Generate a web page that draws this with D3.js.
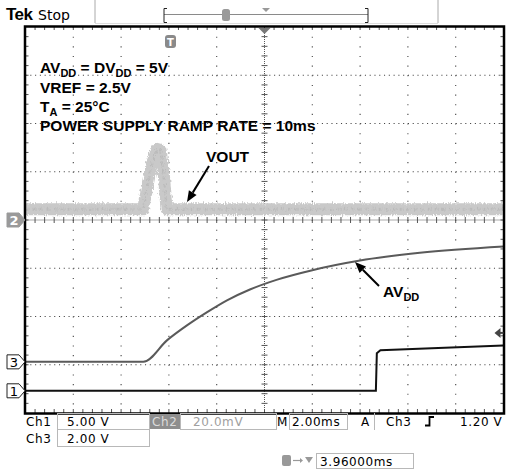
<!DOCTYPE html>
<html lang="en">
<head>
<meta charset="UTF-8">
<title>Power-up glitch scope shot</title>
<script src="https://d3js.org/d3.v7.min.js"></script>
<style>
  body { margin: 0; background: #fff; }
  svg { display: block; }
  .note { font-family: "Liberation Sans", Arial, sans-serif; font-weight: bold; font-size: 15.5px; fill: #000; }
  .stat { font-family: "DejaVu Sans", sans-serif; font-size: 12px; letter-spacing: 0.6px; fill: #000; }
  .box { fill: none; stroke: #b8b8b8; stroke-width: 1; }
</style>
</head>
<body>
<svg id="scope" width="508" height="470"></svg>
<script>
// channel 3 = AVDD (2 V/div), time in ms from left edge of screen
const ch3Time = [0, 4.93, 5.93, 6.77, 7.6, 8.43, 9.39, 10.5, 12, 14, 16.5, 20];
const ch3Volt = [0, 0, 0.9, 1.52, 2.06, 2.55, 3.0, 3.4, 3.8, 4.2, 4.52, 4.78];
// channel 1 (5 V/div)
const ch1Time = [0, 14.66, 14.7, 14.85, 17, 20];
const ch1Volt = [0, 0, 3.9, 4.2, 4.4, 4.7];
// channel 2 = VOUT (20 mV/div)
const ch2Time = [0, 4.92, 5.1, 5.3, 5.5, 5.65, 5.78, 5.9, 20];
const ch2mV = [4.5, 4.5, 14, 24, 29.5, 29, 20, 4.5, 4.5];

const notes = ["VREF = 2.5V", "POWER SUPPLY RAMP RATE = 10ms"];

const svg = d3.select("#scope");
const L = 25.5, R = 503.5, T = 27, B = 413;
const x = d3.scaleLinear().domain([0, 20]).range([L, R]);
const yDiv = d3.scaleLinear().domain([-4, 4]).range([B, T]);
const divW = (R - L) / 10, divH = (B - T) / 8;

// per-channel y mapping: volts per div and ground offset in divisions
const y1 = v => yDiv(v / 5 - 3.54);
const y2 = v => yDiv(v / 20);
const y3 = v => yDiv(v / 2 - 2.94);

// noise filter for the VOUT band
const defs = svg.append("defs");
const f = defs.append("filter").attr("id", "fuzz").attr("x", "-5%").attr("y", "-50%").attr("width", "110%").attr("height", "200%");
f.append("feTurbulence").attr("type", "fractalNoise").attr("baseFrequency", "0.9 0.25").attr("numOctaves", 2).attr("seed", 3).attr("result", "n");
f.append("feDisplacementMap").attr("in", "SourceGraphic").attr("in2", "n").attr("scale", 5).attr("xChannelSelector", "R").attr("yChannelSelector", "G");

// ---- grid
const g = svg.append("g");
d3.range(1, 10).filter(k => k !== 5).forEach(k => {
  g.append("line").attr("x1", L + k * divW).attr("x2", L + k * divW).attr("y1", T).attr("y2", B)
    .attr("stroke", "#444").attr("stroke-width", 1.1).attr("stroke-dasharray", `1.1,${divH / 5 - 1.1}`);
});
d3.range(1, 8).filter(k => k !== 4).forEach(k => {
  g.append("line").attr("x1", L).attr("x2", R).attr("y1", T + k * divH).attr("y2", T + k * divH)
    .attr("stroke", "#444").attr("stroke-width", 1.1).attr("stroke-dasharray", `1.1,${divW / 10 - 1.1}`);
});
// center crosshair
const cx = L + 5 * divW, cy = T + 4 * divH;
g.append("line").attr("x1", cx).attr("x2", cx).attr("y1", T).attr("y2", B).attr("stroke", "#555").attr("stroke-dasharray", "1,1");
g.append("line").attr("x1", L).attr("x2", R).attr("y1", cy).attr("y2", cy).attr("stroke", "#555").attr("stroke-dasharray", "1,1");
d3.range(1, 40).forEach(i => {
  const yy = T + i * divH / 5;
  g.append("line").attr("x1", cx - 3).attr("x2", cx + 3).attr("y1", yy).attr("y2", yy).attr("stroke", "#555");
});
d3.range(1, 50).forEach(i => {
  const xx = L + i * divW / 5;
  g.append("line").attr("x1", xx).attr("x2", xx).attr("y1", cy - 3).attr("y2", cy + 3).attr("stroke", "#555");
  g.append("line").attr("x1", xx).attr("x2", xx).attr("y1", B - 4).attr("y2", B).attr("stroke", "#555");
  g.append("line").attr("x1", xx).attr("x2", xx).attr("y1", T).attr("y2", T + 3).attr("stroke", "#555");
});
d3.range(1, 40).forEach(i => {
  const yy = T + i * divH / 5;
  g.append("line").attr("x1", L).attr("x2", L + 3).attr("y1", yy).attr("y2", yy).attr("stroke", "#555");
  g.append("line").attr("x1", R - 3).attr("x2", R).attr("y1", yy).attr("y2", yy).attr("stroke", "#555");
});

// ---- traces
const vout = ch2Time.map((t, i) => [x(t), y2(ch2mV[i])]);
svg.append("path").attr("d", d3.line().curve(d3.curveLinear)(vout))
  .attr("fill", "none").attr("stroke", "#c9c9c9").attr("stroke-width", 12).attr("stroke-linejoin", "round")
  .attr("filter", "url(#fuzz)");
svg.append("path").attr("d", d3.line().curve(d3.curveLinear)(vout))
  .attr("fill", "none").attr("stroke", "#b3b3b3").attr("stroke-width", 3).attr("opacity", 0.6)
  .attr("stroke-dasharray", "2,1,1,3").attr("filter", "url(#fuzz)");

const avdd = ch3Time.map((t, i) => [x(t), y3(ch3Volt[i])]);
svg.append("path").attr("d", d3.line().curve(d3.curveMonotoneX)(avdd))
  .attr("fill", "none").attr("stroke", "#5a5a5a").attr("stroke-width", 2);

const c1 = ch1Time.map((t, i) => [x(t), y1(ch1Volt[i])]);
svg.append("path").attr("d", d3.line()(c1))
  .attr("fill", "none").attr("stroke", "#111").attr("stroke-width", 2);

// ---- frame
svg.append("rect").attr("x", L - 0.5).attr("y", T - 0.5).attr("width", R - L + 1).attr("height", B - T + 1)
  .attr("fill", "none").attr("stroke", "#000").attr("stroke-width", 2.5);

// top-center marker and trigger-position marker inside screen
svg.append("path").attr("d", `M${cx - 6},${T + 1}L${cx + 6},${T + 1}L${cx},${T + 7}Z`).attr("fill", "#777");
svg.append("rect").attr("x", 165).attr("y", 35).attr("width", 11).attr("height", 13).attr("rx", 3).attr("fill", "#8a8a8a");
svg.append("text").attr("x", 170.5).attr("y", 46).attr("text-anchor", "middle").attr("fill", "#fff")
  .attr("font-family", "DejaVu Sans").attr("font-weight", "bold").attr("font-size", 10).text("T");

// right trigger level arrow (ch3 1.20 V)
const ty = y3(1.2);
svg.append("path").attr("d", `M${R - 9},${ty}L${R - 3},${ty - 5}L${R - 3},${ty + 5}Z`).attr("fill", "#444");
svg.append("line").attr("x1", R - 4).attr("x2", R).attr("y1", ty).attr("y2", ty).attr("stroke", "#444").attr("stroke-width", 2);

// channel ground markers on left
function marker(label, yy, filled) {
  svg.append("path").attr("d", `M7,${yy - 7}L19,${yy - 7}L25,${yy}L19,${yy + 7}L7,${yy + 7}Z`)
    .attr("fill", filled ? "#9a9a9a" : "#fff").attr("stroke", filled ? "#9a9a9a" : "#222").attr("stroke-width", 1);
  svg.append("text").attr("x", 14).attr("y", yy + 5).attr("text-anchor", "middle")
    .attr("font-family", "DejaVu Sans").attr("font-size", 13).attr("font-weight", filled ? "bold" : "normal")
    .attr("fill", filled ? "#fff" : "#000").text(label);
}
marker("2", y2(0), true);
marker("3", y3(0), false);
marker("1", y1(0), false);

// ---- annotations
const n1 = svg.append("text").attr("class", "note").attr("x", 40).attr("y", 73);
n1.append("tspan").text("AV");
n1.append("tspan").attr("font-size", 11).attr("dy", 4).text("DD");
n1.append("tspan").attr("dy", -4).text(" = DV");
n1.append("tspan").attr("font-size", 11).attr("dy", 4).text("DD");
n1.append("tspan").attr("dy", -4).text(" = 5V");
svg.append("text").attr("class", "note").attr("x", 40).attr("y", 93).text(notes[0]);
const n3 = svg.append("text").attr("class", "note").attr("x", 40).attr("y", 112);
n3.append("tspan").text("T");
n3.append("tspan").attr("font-size", 11).attr("dy", 4).text("A");
n3.append("tspan").attr("dy", -4).text(" = 25°C");
svg.append("text").attr("class", "note").attr("x", 40).attr("y", 131).text(notes[1]);

svg.append("text").attr("class", "note").attr("x", 206).attr("y", 162).text("VOUT");
const n5 = svg.append("text").attr("class", "note").attr("x", 383).attr("y", 297);
n5.append("tspan").text("AV");
n5.append("tspan").attr("font-size", 11).attr("dy", 4).text("DD");

function arrow(x1, y1, x2, y2) {
  const a = Math.atan2(y2 - y1, x2 - x1), len = 11, w = 4.5;
  const bx = x2 - len * Math.cos(a), by = y2 - len * Math.sin(a);
  svg.append("line").attr("x1", x1).attr("y1", y1).attr("x2", bx).attr("y2", by).attr("stroke", "#000").attr("stroke-width", 2);
  svg.append("path").attr("d", `M${x2},${y2}L${bx + w * Math.sin(a)},${by - w * Math.cos(a)}L${bx - w * Math.sin(a)},${by + w * Math.cos(a)}Z`).attr("fill", "#000");
}
arrow(209, 166, 187, 202);
arrow(379, 286, 355, 262);

// ---- top status bar
svg.append("text").attr("x", 6).attr("y", 20).attr("font-family", "Liberation Sans").attr("font-weight", "bold").attr("font-size", 17).attr("letter-spacing", -0.5).text("Tek");
svg.append("text").attr("x", 38).attr("y", 20).attr("font-family", "DejaVu Sans").attr("font-size", 14).text("Stop");
[95, 438].forEach(xx => svg.append("line").attr("x1", xx).attr("x2", xx).attr("y1", 0).attr("y2", 23).attr("stroke", "#aaa"));
svg.append("line").attr("x1", 95).attr("x2", 438).attr("y1", 23.5).attr("y2", 23.5).attr("stroke", "#ddd");
svg.append("line").attr("x1", 164).attr("x2", 368).attr("y1", 14.5).attr("y2", 14.5).attr("stroke", "#8a8a8a");
svg.append("path").attr("d", "M167,8.5H164V22.5H167").attr("fill", "none").attr("stroke", "#222");
svg.append("path").attr("d", "M365,8.5H368V22.5H365").attr("fill", "none").attr("stroke", "#222");
svg.append("rect").attr("x", 222).attr("y", 9).attr("width", 8).attr("height", 12).attr("rx", 2.5).attr("fill", "#9a9a9a");
svg.append("path").attr("d", "M262,8L270,8L266,12Z").attr("fill", "#999");

// ---- bottom readouts
const s = svg.append("g");
function box(x0, y0, w, h) { s.append("rect").attr("class", "box").attr("x", x0).attr("y", y0).attr("width", w).attr("height", h); }
box(57.5, 413.5, 92, 16);
box(180.5, 413.5, 96, 16);
box(289.5, 413.5, 58, 16);
box(57.5, 429.5, 92, 17);
box(316.5, 453.5, 97, 15);
s.append("line").attr("x1", 374.5).attr("x2", 374.5).attr("y1", 413).attr("y2", 430).attr("stroke", "#b8b8b8");
s.append("rect").attr("x", 150).attr("y", 414).attr("width", 30).attr("height", 15).attr("fill", "#8e8e8e");

s.append("text").attr("class", "stat").attr("x", 26).attr("y", 426).text("Ch1");
s.append("text").attr("class", "stat").attr("x", 67).attr("y", 426).text("5.00 V");
s.append("text").attr("class", "stat").attr("x", 152).attr("y", 426).style("fill", "#dcdcdc").text("Ch2");
s.append("text").attr("class", "stat").attr("x", 193).attr("y", 426).style("fill", "#a0a0a0").text("20.0mV");
s.append("text").attr("class", "stat").attr("x", 277).attr("y", 426).text("M");
s.append("text").attr("class", "stat").attr("x", 292).attr("y", 426).text("2.00ms");
s.append("text").attr("class", "stat").attr("x", 361).attr("y", 426).text("A");
s.append("text").attr("class", "stat").attr("x", 386).attr("y", 426).text("Ch3");
s.append("path").attr("d", "M425,425.5H429.5V417H434").attr("fill", "none").attr("stroke", "#000").attr("stroke-width", 1.8);
s.append("text").attr("class", "stat").attr("x", 460).attr("y", 426).text("1.20 V");
s.append("text").attr("class", "stat").attr("x", 26).attr("y", 443).text("Ch3");
s.append("text").attr("class", "stat").attr("x", 67).attr("y", 443).text("2.00 V");
s.append("rect").attr("x", 282).attr("y", 455).attr("width", 9).attr("height", 11).attr("rx", 2).attr("fill", "#999");
s.append("path").attr("d", "M293,460.5H300").attr("stroke", "#999").attr("stroke-width", 1.2);
s.append("path").attr("d", "M300,458L303,460.5L300,463Z").attr("fill", "#999");
s.append("path").attr("d", "M305,457H313L309,463Z").attr("fill", "#999");
s.append("text").attr("class", "stat").attr("x", 320).attr("y", 466).text("3.96000ms");
</script>
</body>
</html>
